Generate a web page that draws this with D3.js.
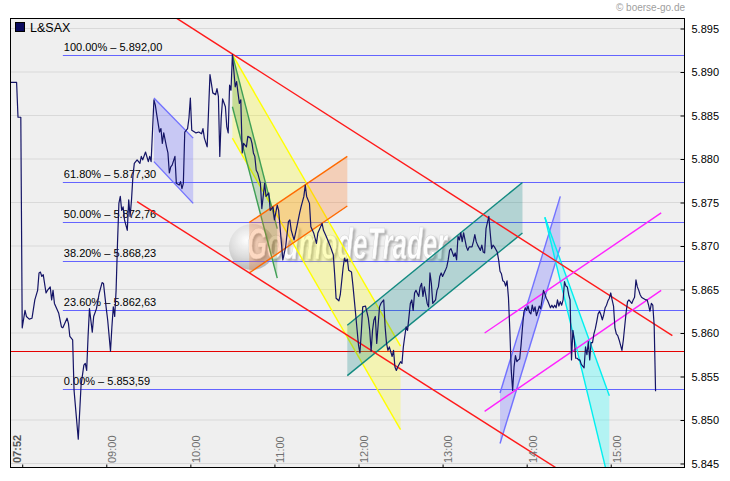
<!DOCTYPE html>
<html><head><meta charset="utf-8">
<script src="https://cdn.jsdelivr.net/npm/d3@7"></script>
<style>
body{margin:0;background:#fff}
svg{display:block}
text{font-family:"Liberation Sans",Arial,sans-serif}
</style>
</head><body>
<svg id="c" width="730" height="481"></svg>
<script>
// ---------------- DATA ----------------
const seriesName = "L&SAX";
const copyright = "© boerse-go.de";
const watermark = "GodmodeTrader";
const priceSeries = [
["07:52",5888.8],["07:56",5888.8],["07:57",5884.8],["07:59",5884.8],["08:00",5860.6],["08:02",5862.6],["08:03",5861.9],["08:05",5861.6],
["08:07",5861.7],["08:09",5863.8],["08:11",5864.9],["08:12",5866.9],["08:13",5867.0],["08:14",5866.5],["08:15",5866.7],["08:17",5864.6],
["08:18",5864.9],["08:20",5865.3],["08:21",5863.8],["08:22",5864.9],["08:23",5863.4],["08:26",5862.3],["08:28",5860.7],["08:29",5860.6],
["08:32",5861.7],["08:33",5861.1],["08:34",5859.6],["08:36",5859.2],["08:37",5853.4],["08:40",5847.8],["08:42",5854.0],["08:44",5856.3],
["08:45",5856.5],["08:46",5855.7],["08:47",5859.6],["08:48",5862.8],["08:50",5860.1],["08:51",5861.9],["08:53",5862.8],["08:55",5864.6],
["08:57",5865.8],["08:58",5865.7],["09:00",5862.8],["09:01",5861.5],["09:03",5857.9],["09:04",5860.7],["09:05",5863.0],["09:06",5861.9],
["09:07",5864.9],["09:08",5870.3],["09:09",5874.9],["09:10",5875.7],["09:11",5874.1],["09:12",5874.5],["09:13",5873.0],["09:15",5871.8],
["09:16",5875.3],["09:17",5873.4],["09:18",5875.3],["09:19",5878.0],["09:20",5879.5],["09:22",5879.9],["09:24",5879.5],["09:25",5880.3],
["09:26",5879.9],["09:28",5880.8],["09:30",5879.7],["09:31",5880.3],["09:32",5879.7],["09:34",5886.8],["09:35",5886.2],["09:36",5885.1],
["09:38",5883.1],["09:39",5883.5],["09:40",5881.8],["09:41",5883.0],["09:43",5881.4],["09:44",5880.7],["09:45",5878.4],["09:46",5879.1],
["09:47",5879.3],["09:49",5880.3],["09:50",5877.2],["09:52",5877.0],["09:53",5877.4],["09:54",5876.6],["09:55",5877.2],["09:56",5883.1],
["09:58",5883.5],["09:59",5884.7],["10:00",5887.0],["10:01",5883.3],["10:03",5883.1],["10:04",5883.0],["10:06",5883.1],["10:08",5882.9],
["10:09",5883.5],["10:10",5882.4],["10:12",5881.4],["10:13",5885.6],["10:14",5889.7],["10:15",5888.7],["10:16",5887.6],["10:18",5887.4],
["10:19",5888.1],["10:20",5887.2],["10:21",5880.3],["10:22",5884.7],["10:23",5886.9],["10:25",5886.0],["10:26",5883.7],["10:27",5883.0],
["10:28",5888.5],["10:29",5887.9],["10:30",5892.0],["10:31",5890.2],["10:32",5888.3],["10:33",5888.9],["10:34",5887.6],["10:35",5886.4],
["10:36",5886.8],["10:37",5880.7],["10:38",5881.8],["10:40",5881.4],["10:41",5882.6],["10:43",5882.4],["10:44",5881.8],["10:45",5880.7],
["10:46",5880.3],["10:47",5878.7],["10:48",5878.4],["10:50",5877.2],["10:51",5874.3],["10:53",5877.2],["10:54",5875.7],["10:56",5876.1],
["10:57",5874.1],["10:59",5874.5],["11:00",5873.0],["11:02",5874.7],["11:03",5874.1],["11:05",5870.3],["11:06",5868.4],["11:08",5869.9],
["11:10",5872.8],["11:11",5873.0],["11:12",5871.8],["11:14",5870.7],["11:16",5872.2],["11:18",5873.8],["11:19",5874.5],["11:21",5875.7],
["11:22",5877.0],["11:23",5875.7],["11:25",5874.9],["11:26",5872.2],["11:28",5871.5],["11:30",5870.3],["11:31",5871.5],["11:34",5872.6],
["11:35",5871.8],["11:37",5871.1],["11:40",5869.9],["11:42",5869.0],["11:43",5866.7],["11:44",5864.0],["11:46",5863.7],["11:47",5864.4],
["11:49",5867.5],["11:50",5868.6],["11:51",5868.2],["11:52",5868.5],["11:53",5867.2],["11:55",5867.0],["11:56",5865.5],["11:58",5862.1],
["12:00",5858.6],["12:01",5857.7],["12:02",5860.1],["12:03",5863.0],["12:05",5863.1],["12:06",5862.4],["12:07",5861.7],["12:08",5860.3],
["12:09",5857.9],["12:10",5860.3],["12:11",5861.5],["12:12",5861.9],["12:13",5858.8],["12:15",5863.0],["12:16",5863.4],["12:18",5863.8],
["12:19",5860.7],["12:20",5858.8],["12:21",5858.0],["12:22",5858.4],["12:24",5857.3],["12:25",5858.0],["12:26",5856.1],["12:27",5855.7],
["12:28",5856.1],["12:30",5856.7],["12:31",5856.5],["12:32",5858.4],["12:33",5859.6],["12:34",5860.7],["12:35",5860.3],["12:37",5863.4],
["12:38",5863.8],["12:39",5862.6],["12:40",5864.6],["12:41",5864.9],["12:43",5864.2],["12:44",5865.3],["12:45",5865.7],["12:46",5864.2],
["12:47",5865.3],["12:49",5863.4],["12:50",5863.0],["12:51",5866.9],["12:52",5865.7],["12:53",5863.4],["12:55",5863.8],["12:56",5864.9],
["12:57",5865.3],["12:58",5866.5],["12:59",5866.9],["13:00",5866.5],["13:02",5867.2],["13:03",5867.6],["13:04",5868.4],["13:05",5869.5],
["13:06",5869.7],["13:08",5868.8],["13:09",5869.2],["13:10",5868.4],["13:11",5871.1],["13:12",5870.7],["13:13",5871.5],["13:14",5870.5],
["13:15",5871.5],["13:17",5869.9],["13:18",5869.5],["13:19",5869.9],["13:21",5869.9],["13:22",5870.5],["13:23",5871.3],["13:24",5870.5],
["13:25",5870.1],["13:27",5869.5],["13:28",5870.1],["13:29",5869.3],["13:30",5869.2],["13:31",5872.0],["13:33",5873.4],["13:34",5871.5],
["13:35",5869.7],["13:36",5870.1],["13:37",5869.9],["13:39",5869.3],["13:40",5868.4],["13:41",5867.1],["13:42",5866.8],["13:43",5866.0],
["13:44",5865.9],["13:45",5865.4],["13:46",5866.0],["13:47",5864.1],["13:48",5860.3],["13:49",5855.7],["13:50",5853.4],["13:51",5856.1],
["13:52",5857.4],["13:53",5856.7],["13:54",5856.9],["13:55",5857.0],["13:56",5858.6],["13:57",5860.6],["13:58",5862.4],["13:59",5862.9],
["14:00",5862.6],["14:01",5863.1],["14:02",5862.4],["14:03",5862.2],["14:04",5863.2],["14:05",5862.5],["14:06",5863.0],["14:07",5862.0],
["14:08",5862.5],["14:09",5863.1],["14:10",5862.8],["14:11",5863.8],["14:12",5864.9],["14:13",5864.5],["14:14",5864.0],["14:15",5863.7],
["14:16",5863.3],["14:17",5862.9],["14:18",5863.2],["14:19",5862.9],["14:20",5863.2],["14:21",5862.9],["14:22",5863.8],["14:23",5863.1],
["14:24",5863.6],["14:25",5863.2],["14:26",5863.8],["14:27",5865.9],["14:28",5865.4],["14:29",5865.3],["14:30",5864.4],["14:31",5863.8],
["14:32",5856.9],["14:33",5860.3],["14:34",5859.2],["14:35",5857.1],["14:36",5857.1],["14:37",5856.9],["14:38",5856.9],["14:39",5856.4],
["14:40",5856.2],["14:41",5856.0],["14:42",5858.4],["14:43",5857.5],["14:44",5859.0],["14:45",5856.9],["14:46",5858.9],["14:47",5858.9],
["14:48",5859.9],["14:49",5860.5],["14:50",5861.3],["14:51",5862.2],["14:52",5862.5],["14:53",5862.1],["14:54",5861.5],["14:55",5862.1],
["14:56",5862.9],["14:57",5863.2],["14:58",5863.7],["14:59",5864.0],["15:00",5864.6],["15:01",5863.8],["15:02",5863.1],["15:03",5860.6],
["15:04",5859.9],["15:05",5859.7],["15:06",5859.2],["15:07",5858.6],["15:08",5858.0],["15:09",5859.2],["15:10",5860.8],["15:11",5862.4],
["15:12",5863.6],["15:13",5863.8],["15:14",5863.6],["15:15",5863.4],["15:16",5863.8],["15:17",5864.1],["15:18",5866.1],["15:19",5865.3],
["15:20",5864.9],["15:21",5864.4],["15:22",5864.1],["15:23",5864.0],["15:24",5863.9],["15:25",5863.8],["15:26",5863.8],["15:27",5863.2],
["15:28",5862.5],["15:29",5863.4],["15:30",5863.2],["15:31",5860.9],["15:32",5853.3]
];
const timeStart = "07:52";
const timeEnd = "15:53";
const yTicks = [5845,5850,5855,5860,5865,5870,5875,5880,5885,5890,5895];
const hourTicks = ["08:00","09:00","10:00","11:00","12:00","13:00","14:00","15:00"];
const xLabels = ["07:52","09:00","10:00","11:00","12:00","13:00","14:00","15:00"];
const fibPercents = ["100.00%","61.80%","50.00%","38.20%","23.60%","0.00%"];
const fibValues = [5892.00,5877.30,5872.76,5868.23,5862.63,5853.59];
const fibStart = "08:29";
const refLevel = 5857.9;
// channels: two parallel boundary lines between two times
const channelNames = ["yellow","green","orange","blue1","teal","blue2","cyan"];
const channelTimes = [["10:30","12:30"],["10:30","11:02"],["10:42","11:52"],["09:34","10:02"],["11:52","13:57"],["13:41","14:24"],["14:13","14:59"]];
const channelUpper = [[5892.0,5858.5],[5892.0,5872.0],[5872.7,5880.3],[5887.0,5882.4],[5860.9,5877.3],[5853.1,5875.7],[5873.3,5852.8]];
const channelLower = [[5882.4,5848.9],[5886.0,5866.3],[5866.9,5874.6],[5879.7,5874.9],[5855.1,5871.5],[5847.3,5869.9],[5873.3,5842.7]];
// trend lines
const trendNames = ["redUpper","redLower","magentaUpper","magentaLower"];
const trendTimes = [["09:50","15:44"],["09:22","14:21"],["13:30","15:36"],["13:30","15:36"]];
const trendValues = [[5896.2,5859.7],[5875.1,5844.5],[5860.0,5873.8],[5851.0,5864.9]];

// ---------------- STYLES ----------------
const channelStyle = {
  yellow:{fill:"rgba(255,255,0,0.25)",stroke:"#ffff00"},
  green:{fill:"rgba(40,140,40,0.22)",stroke:"#3f9f55"},
  orange:{fill:"rgba(255,110,20,0.25)",stroke:"#ff6a00"},
  blue1:{fill:"rgba(110,110,255,0.3)",stroke:"#7272ff"},
  teal:{fill:"rgba(0,128,128,0.25)",stroke:"#128a80"},
  blue2:{fill:"rgba(110,110,255,0.3)",stroke:"#7272ff"},
  cyan:{fill:"rgba(0,255,255,0.25)",stroke:"#00f0f0"}
};
const trendStyle = {redUpper:"#ff1a1a",redLower:"#ff1a1a",magentaUpper:"#ff22ff",magentaLower:"#ff22ff"};

// ---------------- CHART ----------------
const tm = s => { const [h,m] = s.split(":").map(Number); return h*60+m; };
const svg = d3.select("#c");
const P = {l:10, t:18, r:685, b:468};
const x = d3.scaleLinear().domain([tm(timeStart), tm(timeEnd)]).range([11, P.r]);
const y = d3.scaleLinear().domain([5845, 5895]).range([463.5, 28.5]);
const loc = d3.formatLocale({decimal:",", thousands:".", grouping:[3], currency:["","€"]});
const fmtTick = loc.format(",d");
const fmtFib = loc.format(",.2f");

const defs = svg.append("defs");
defs.append("clipPath").attr("id","plot").append("rect")
  .attr("x",P.l).attr("y",P.t).attr("width",P.r-P.l).attr("height",P.b-P.t);
const rg = defs.append("radialGradient").attr("id","ball").attr("cx","38%").attr("cy","35%").attr("r","65%");
rg.append("stop").attr("offset","0%").attr("stop-color","#ffffff");
rg.append("stop").attr("offset","55%").attr("stop-color","#dcdcdc");
rg.append("stop").attr("offset","100%").attr("stop-color","#b4b4b4");
const sh = defs.append("filter").attr("id","shadow").attr("x","-10%").attr("y","-20%").attr("width","130%").attr("height","150%");
sh.append("feDropShadow").attr("dx",2).attr("dy",2).attr("stdDeviation",1.2).attr("flood-color","#888").attr("flood-opacity",0.7);

// background
svg.append("rect").attr("x",P.l).attr("y",P.t).attr("width",P.r-P.l).attr("height",P.b-P.t).attr("fill","#efefef");

const g = svg.append("g").attr("clip-path","url(#plot)");

// grid
g.selectAll(".grid").data(yTicks).join("line")
  .attr("x1",P.l).attr("x2",P.r).attr("y1",d=>y(d)).attr("y2",d=>y(d))
  .attr("stroke","#d9d9d9").attr("stroke-width",1);

// watermark
const wm = g.append("g").attr("opacity",0.9);
wm.append("circle").attr("cx",252).attr("cy",247).attr("r",23).attr("fill","url(#ball)");
wm.append("text").attr("x",247).attr("y",259).attr("font-size",44).attr("font-weight","bold")
  .attr("font-style","italic").attr("textLength",200).attr("lengthAdjust","spacingAndGlyphs")
  .attr("fill","#ffffff").attr("stroke","#d0d0d0").attr("stroke-width",0.6)
  .attr("filter","url(#shadow)").text(watermark);

// fib lines
g.selectAll(".fib").data(fibValues).join("line")
  .attr("x1",x(tm(fibStart))).attr("x2",P.r).attr("y1",d=>Math.round(y(d))+0.5).attr("y2",d=>Math.round(y(d))+0.5)
  .attr("stroke","#6464ff").attr("stroke-width",1);
// reference level
g.append("line").attr("x1",P.l).attr("x2",P.r).attr("y1",Math.round(y(refLevel))+0.5).attr("y2",Math.round(y(refLevel))+0.5)
  .attr("stroke","#e60000").attr("stroke-width",1);

// fib labels
g.selectAll(".fibl").data(fibValues).join("text")
  .attr("x",x(tm(fibStart))+1).attr("y",d=>y(d)-4).attr("font-size",11).attr("fill","#000")
  .text((d,i)=>fibPercents[i]+" \u2013 "+fmtFib(d));

// channels
channelNames.forEach((name,i)=>{
  const t0 = x(tm(channelTimes[i][0])), t1 = x(tm(channelTimes[i][1]));
  const u = channelUpper[i], l = channelLower[i], st = channelStyle[name];
  const pts = [[t0,y(u[0])],[t1,y(u[1])],[t1,y(l[1])],[t0,y(l[0])]];
  g.append("path").attr("d",d3.line()(pts)+"Z").attr("fill",st.fill).attr("stroke","none");
  [[u[0],u[1]],[l[0],l[1]]].forEach(v=>{
    g.append("line").attr("x1",t0).attr("y1",y(v[0])).attr("x2",t1).attr("y2",y(v[1]))
      .attr("stroke",st.stroke).attr("stroke-width",1.4);
  });
});

// trend lines
trendNames.forEach((name,i)=>{
  g.append("line")
    .attr("x1",x(tm(trendTimes[i][0]))).attr("y1",y(trendValues[i][0]))
    .attr("x2",x(tm(trendTimes[i][1]))).attr("y2",y(trendValues[i][1]))
    .attr("stroke",trendStyle[name]).attr("stroke-width",1.4);
});

// price line
g.append("path").datum(priceSeries)
  .attr("d",d3.line().x(d=>x(tm(d[0]))).y(d=>y(d[1])))
  .attr("fill","none").attr("stroke","#141466").attr("stroke-width",1.2).attr("stroke-linejoin","round");

// border
svg.append("rect").attr("x",P.l+0.5).attr("y",P.t+0.5).attr("width",P.r-P.l-1).attr("height",P.b-P.t-1)
  .attr("fill","none").attr("stroke","#000").attr("stroke-width",1);

// right axis
const ya = svg.append("g").attr("transform",`translate(${P.r-0.5},0)`)
  .call(d3.axisRight(y).tickValues(yTicks).tickSize(-4).tickPadding(7).tickFormat(fmtTick));
ya.select(".domain").remove();
ya.selectAll("line").attr("stroke","#000");
ya.selectAll("text").attr("font-size",11).attr("fill","#000").attr("font-family","'Liberation Sans',Arial,sans-serif");

// bottom axis ticks
const xa = svg.append("g").attr("transform",`translate(0,${P.b-0.5})`)
  .call(d3.axisBottom(x).tickValues(hourTicks.map(tm)).tickSize(-3).tickFormat(""));
xa.select(".domain").remove();
xa.selectAll("line").attr("stroke","#000");

// bottom labels (rotated)
svg.selectAll(".xl").data(xLabels).join("text")
  .attr("transform",d=>`translate(${x(tm(d))+6},463) rotate(-90)`)
  .attr("dy","0.35em").attr("font-size",11)
  .attr("font-weight",(d,i)=>i===0?"bold":"normal")
  .attr("fill",(d,i)=>i===0?"#555":"#707070")
  .text(d=>d);

// legend
svg.append("rect").attr("x",15.5).attr("y",22.5).attr("width",9).attr("height",9).attr("fill","#0a0a5e").attr("stroke","#000");
svg.append("text").attr("x",30).attr("y",31.5).attr("font-size",12.5).attr("fill","#000").text(seriesName);
// copyright
svg.append("text").attr("x",P.r).attr("y",11).attr("text-anchor","end").attr("font-size",10).attr("fill","#a0a0a0").text(copyright);
</script>
</body></html>
